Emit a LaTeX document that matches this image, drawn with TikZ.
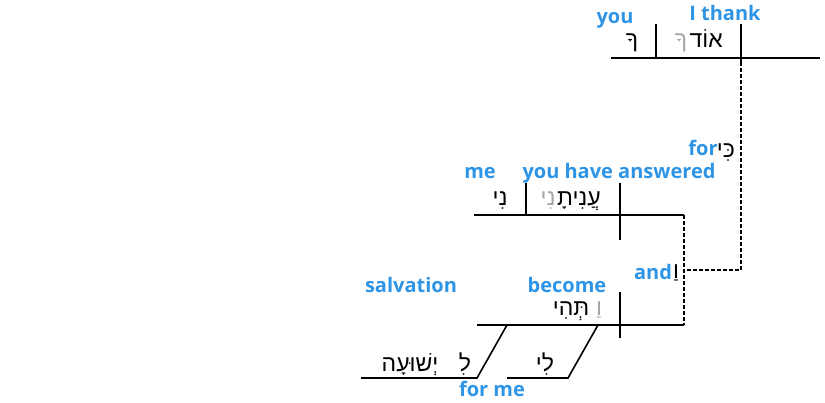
\documentclass[tikz,border=0pt]{standalone}
\usepackage{fontspec}
\setmainfont{Open Sans}
\newfontfamily\hebfont[Script=Hebrew]{Liberation Sans}
\TeXXeTstate=1
\definecolor{lblue}{RGB}{46,148,229}
\definecolor{lgray}{RGB}{165,165,165}
\tikzset{
  en/.style={font=\fontsize{20}{22}\selectfont\bfseries, text=lblue, inner sep=0pt, anchor=base},
  he/.style={font=\fontsize{23}{25}\selectfont\hebfont, inner sep=0pt, anchor=base},
  hg/.style={he, text=lgray},
  ln/.style={line width=1.6pt},
  dl/.style={line width=1.4pt, dash pattern=on 4pt off 2pt}
}
\begin{document}
\begin{tikzpicture}[x=1pt,y=-1pt]
\useasboundingbox (0,0) rectangle (825,403);
% ---------- top clause ----------
\coordinate (tL) at (611,58);
\coordinate (tR) at (820,58);
\coordinate (tVt) at (741,24);
\coordinate (tVb) at (741,62);
\coordinate (tOt) at (656,24);
\coordinate (tOb) at (656,58);
\draw[ln] (tL) -- (tR);
\draw[ln] (tVt) -- (tVb);
\draw[ln] (tOt) -- (tOb);
\node[en] (you) at (615,24) {you};
\node[en] (ithank) at (725,21) {I thank};
\node[he, anchor=base east] (oded) at (723,48) {\beginR אוֹד\endR};
\node[hg, anchor=base east] (odkha) at ([xshift=-2pt]oded.base west) {\beginR ךָ\endR};
\node[he] (kha) at (632,48) {\beginR ךָ\endR};
% ---------- connectors ----------
\coordinate (jA) at (741,270);
\coordinate (jB) at (684,270);
\coordinate (mR) at (684,215);
\coordinate (bR) at (684,325);
\draw[dl] (tVb) -- (jA) -- (jB);
\draw[dl] (mR) -- (bR);
\node[he] (ki) at (726,158) {\beginR כִּי\endR};
\node[en] (for) at (703,156) {for};
\node[he] (ve) at (676,279) {\beginR וַ\endR};
\node[en] (and) at (653,280) {and};
% ---------- middle clause ----------
\coordinate (mL) at (474,215);
\coordinate (mVt) at (620,183);
\coordinate (mVb) at (620,240);
\coordinate (mOt) at (526,183);
\coordinate (mOb) at (526,215);
\draw[ln] (mL) -- (mR);
\draw[ln] (mVt) -- (mVb);
\draw[ln] (mOt) -- (mOb);
\node[en] (me) at (480,179) {me};
\node[en] (answered) at (619,179) {you have answered};
\node[he, anchor=base east] (aniyt) at (601,206) {\beginR עֲנִיתָ\endR};
\node[hg, anchor=base east] (aniyni) at ([xshift=-1pt]aniyt.base west) {\beginR נִי\endR};
\node[he] (ni) at (500,206) {\beginR נִי\endR};
% ---------- bottom clause ----------
\coordinate (bL) at (477,325);
\coordinate (bVt) at (620,292);
\coordinate (bVb) at (620,338);
\coordinate (s1t) at (507,325);
\coordinate (s1b) at (477,378);
\coordinate (h1) at (361,378);
\coordinate (s2t) at (598,325);
\coordinate (s2b) at (568,378);
\coordinate (h2) at (507,378);
\draw[ln] (bL) -- (bR);
\draw[ln] (bVt) -- (bVb);
\draw[ln] (h1) -- (s1b) -- (s1t);
\draw[ln] (h2) -- (s2b) -- (s2t);
\node[en] (salvation) at (411,293) {salvation};
\node[en] (become) at (567,293) {become};
\node[hg] (vat) at (599,316) {\beginR וַ\endR};
\node[he] (tehi) at (571,316) {\beginR תְּהִי\endR};
\node[he] (yeshua) at (410,371) {\beginR יְשׁוּעָה\endR};
\node[he] (li1) at (465,371) {\beginR לִ\endR};
\node[he] (li2) at (545,371) {\beginR לִי\endR};
\node[en] (forme) at (492,396) {for me};
\end{tikzpicture}
\end{document}
